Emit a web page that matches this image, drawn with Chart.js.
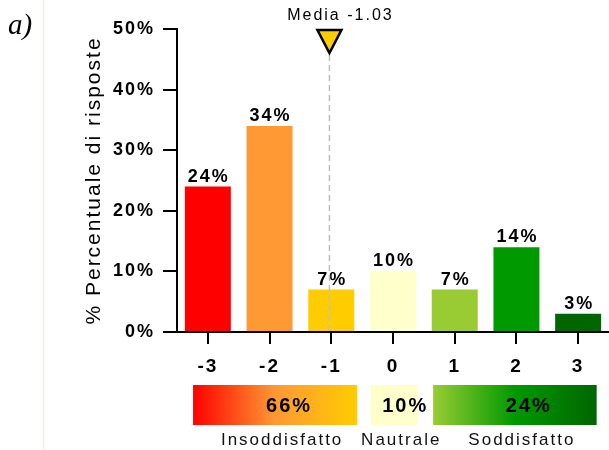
<!DOCTYPE html>
<html>
<head>
<meta charset="utf-8">
<script src="https://cdn.jsdelivr.net/npm/chart.js@4/dist/chart.umd.min.js"></script>
<style>
  html, body { margin: 0; padding: 0; background: #fff; overflow: hidden; }
  canvas { display: block; }
</style>
</head>
<body>
<canvas id="c" width="609" height="450"></canvas>
<script>
// Survey scores and share of answers for each score
const categories = ['-3', '-2', '-1', '0', '1', '2', '3'];
const shares = [24, 34, 7, 10, 7, 14, 3];
const yTicks = [0, 10, 20, 30, 40, 50];
const meanScore = -1.03;

// Grouped totals shown under the axis
const groupNames = ['Insoddisfatto', 'Nautrale', 'Soddisfatto'];
const groupShares = [66, 10, 24];

// Styling
const barColors = ['#FF0000', '#FF9933', '#FFCC00', '#FFFFCC', '#99CC33', '#009900', '#006600'];
const FONT = "'Liberation Sans', Arial, sans-serif";

// Group boxes: span in category units, gradient stops, text shift
const groupBoxes = [
  { from: -0.24, to: 2.42, stops: ['#FF0000', '#FF9933', '#FFCC00'], shift: 14 },
  { from: 2.64, to: 3.40, stops: ['#FFFFCC', '#FFFFCC', '#FFFFCC'], shift: 11 },
  { from: 3.65, to: 6.30, stops: ['#99CC33', '#009900', '#006600'], shift: 14 }
];

const decorations = {
  id: 'decorations',
  beforeUpdate(chart) { chart.ctx.letterSpacing = '2px'; },
  beforeDraw(chart) {
    const ctx = chart.ctx;
    ctx.save();
    ctx.fillStyle = '#fff';
    ctx.fillRect(0, 0, chart.width, chart.height);
    // panel separator
    ctx.strokeStyle = '#efefe9';
    ctx.lineWidth = 1.5;
    ctx.beginPath();
    ctx.moveTo(43.5, 0);
    ctx.lineTo(43.5, chart.height);
    ctx.stroke();
    // panel letter
    ctx.letterSpacing = '0px';
    ctx.fillStyle = '#000';
    ctx.font = "italic 29px 'Liberation Serif', 'Times New Roman', serif";
    ctx.textAlign = 'left';
    ctx.textBaseline = 'alphabetic';
    ctx.fillText('a)', 8, 34);
    ctx.restore();
    ctx.letterSpacing = '2px';
  },
  afterDatasetsDraw(chart) {
    const ctx = chart.ctx;
    const xs = chart.scales.x, ys = chart.scales.y;
    const area = chart.chartArea;
    ctx.save();
    ctx.letterSpacing = '2px';
    // value labels on top of bars
    ctx.fillStyle = '#000';
    ctx.font = 'bold 18px ' + FONT;
    ctx.textAlign = 'center';
    ctx.textBaseline = 'alphabetic';
    chart.getDatasetMeta(0).data.forEach((bar, i) => {
      ctx.fillText(shares[i] + '%', bar.x + 1, bar.y - 5);
    });

    // mean marker
    const mx = xs.getPixelForValue(categories.indexOf('0') + meanScore);
    const top = ys.getPixelForValue(yTicks[yTicks.length - 1]) + 1;
    const tipY = top + 23;
    ctx.strokeStyle = '#bdbdbd';
    ctx.lineWidth = 1.5;
    ctx.setLineDash([6, 4]);
    ctx.beginPath();
    ctx.moveTo(mx, tipY + 2);
    ctx.lineTo(mx, area.bottom);
    ctx.stroke();
    ctx.setLineDash([]);

    ctx.beginPath();
    ctx.moveTo(mx - 12, top);
    ctx.lineTo(mx + 12, top);
    ctx.lineTo(mx, tipY);
    ctx.closePath();
    ctx.fillStyle = '#FFCC00';
    ctx.fill();
    ctx.strokeStyle = '#000';
    ctx.lineWidth = 2.5;
    ctx.lineJoin = 'miter';
    ctx.stroke();

    ctx.fillStyle = '#000';
    ctx.font = '16px ' + FONT;
    ctx.fillText('Media ' + meanScore.toFixed(2), mx + 11, 20);
    ctx.restore();
  },
  afterDraw(chart) {
    const ctx = chart.ctx;
    const xs = chart.scales.x;
    ctx.save();
    ctx.letterSpacing = '2px';
    const y0 = 385, h = 40;
    groupBoxes.forEach((b, i) => {
      const x0 = xs.getPixelForValue(b.from);
      const x1 = xs.getPixelForValue(b.to);
      const g = ctx.createLinearGradient(x0, 0, x1, 0);
      g.addColorStop(0, b.stops[0]);
      g.addColorStop(0.5, b.stops[1]);
      g.addColorStop(1, b.stops[2]);
      ctx.fillStyle = g;
      ctx.fillRect(x0, y0, x1 - x0, h);
      const cx = (x0 + x1) / 2;
      ctx.fillStyle = '#000';
      ctx.textAlign = 'center';
      ctx.textBaseline = 'alphabetic';
      ctx.font = 'bold 20px ' + FONT;
      ctx.fillText(groupShares[i] + '%', cx + b.shift, 412);
      ctx.font = '17px ' + FONT;
      ctx.fillStyle = '#111';
      ctx.fillText(groupNames[i], cx + 7, 445);
    });
    ctx.restore();
  }
};

new Chart(document.getElementById('c'), {
  type: 'bar',
  data: {
    labels: categories,
    datasets: [{
      data: shares,
      backgroundColor: barColors,
      borderWidth: 0,
      categoryPercentage: 1,
      barPercentage: 0.745
    }]
  },
  options: {
    responsive: false,
    devicePixelRatio: 1,
    animation: false,
    layout: { padding: { top: 29, left: 0, right: 0, bottom: 0 } },
    plugins: { legend: { display: false }, tooltip: { enabled: false } },
    scales: {
      x: {
        type: 'category',
        offset: true,
        z: 1,
        grid: { display: true, offset: false, drawOnChartArea: false, drawTicks: true, tickLength: 12, color: '#000', lineWidth: 2 },
        border: { display: true, color: '#000', width: 2 },
        ticks: { color: '#000', font: { family: FONT, size: 19, weight: 'bold' }, padding: 11, maxRotation: 0 },
        afterFit(s) { s.height = 118; }
      },
      y: {
        min: yTicks[0],
        max: yTicks[yTicks.length - 1],
        z: 1,
        afterBuildTicks(s) { s.ticks = yTicks.map(v => ({ value: v })); },
        grid: { display: true, drawOnChartArea: false, drawTicks: true, tickLength: 14, color: '#000', lineWidth: 2 },
        border: { display: true, color: '#000', width: 2 },
        ticks: { color: '#000', font: { family: FONT, size: 18, weight: 'bold' }, padding: 8, callback: v => v + '%' },
        title: {
          display: true,
          text: '% Percentuale di risposte',
          color: '#000',
          font: { family: FONT, size: 21, weight: 'normal' },
          padding: { top: 82, bottom: 0 }
        },
        afterFit(s) { s.width = 177; }
      }
    }
  },
  plugins: [decorations]
});
</script>
</body>
</html>
